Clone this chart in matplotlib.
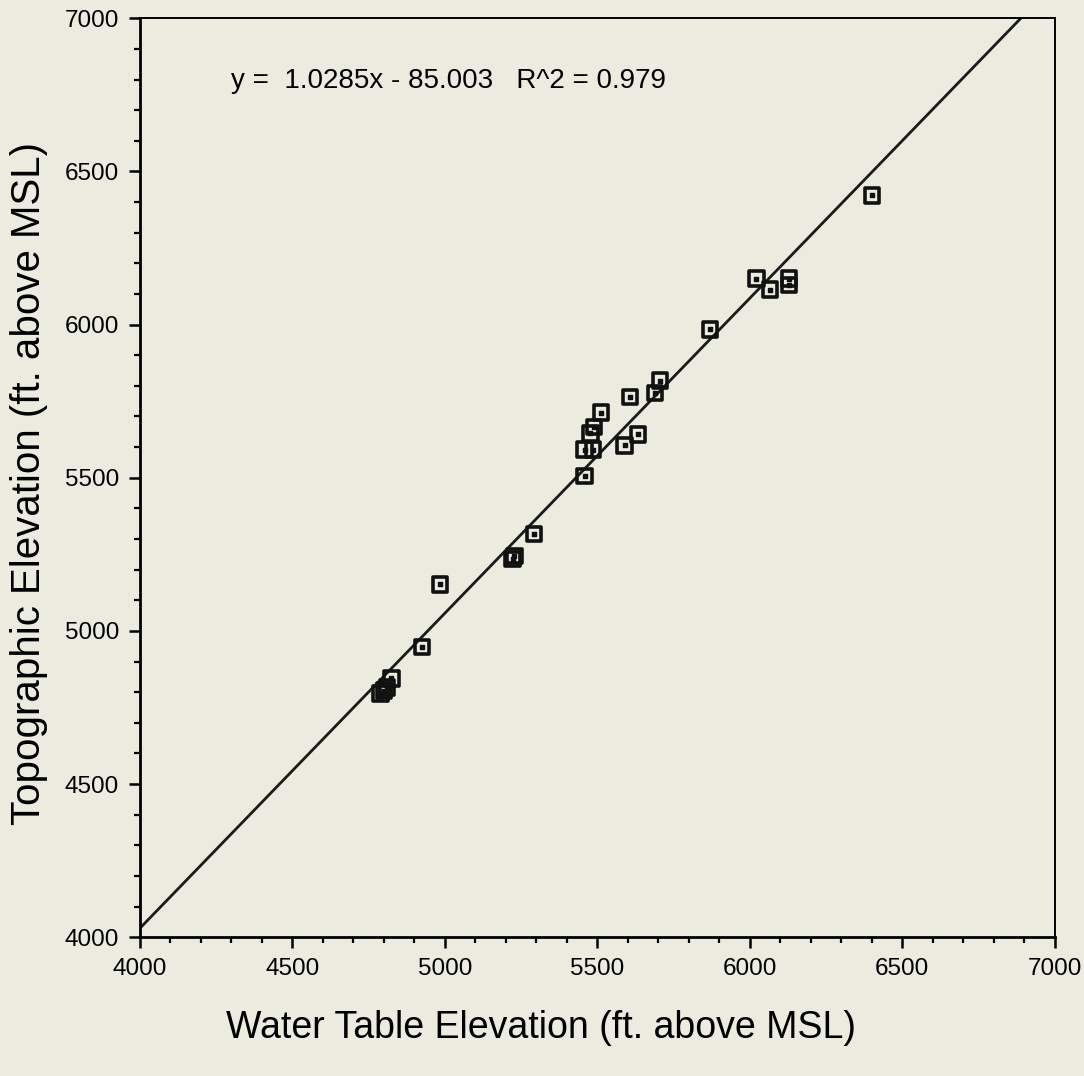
import numpy as np
import matplotlib.pyplot as plt
from matplotlib.ticker import MultipleLocator

# Water table vs topographic elevation (ft above MSL)
water_table = np.array([
    4790, 4800, 4810, 4825, 4925, 4984, 5222, 5228, 5293,
    5459, 5459, 5486, 5477, 5489, 5512, 5590, 5634, 5607,
    5689, 5705, 5869, 6022, 6066, 6128, 6128, 6401
], dtype=float)

topo = np.array([
    4795, 4805, 4815, 4845, 4947, 5152, 5235, 5245, 5316,
    5505, 5592, 5592, 5645, 5665, 5713, 5606, 5642, 5764,
    5776, 5817, 5984, 6150, 6114, 6150, 6129, 6422
], dtype=float)

# Reported regression
slope = 1.0285
intercept = -85.003
r2 = 0.979

bg = "#ecebe0"
plt.rcParams['font.family'] = ['Liberation Sans', 'DejaVu Sans']

fig = plt.figure(figsize=(10.84, 10.76), dpi=100, facecolor=bg)
ax = fig.add_axes([0.129, 0.129, 0.844, 0.854], facecolor=bg)

# fit line, clipped to the axes box
x_end = (7000 - intercept) / slope
x_fit = np.linspace(4000, x_end, 50)
ax.plot(x_fit, slope * x_fit + intercept, color="#1a1a1a", lw=2.0, zorder=2)

ax.scatter(water_table, topo, marker='s', s=110, facecolors='none',
           edgecolors='#111111', linewidths=2.6, zorder=3)
ax.scatter(water_table, topo, marker='s', s=5, color='#111111', zorder=4)

ax.text(4300, 6795, f"y =  {slope}x - {abs(intercept):.3f}   R^2 = {r2}",
        fontsize=20, va='center', ha='left')

ax.set_xlim(4000, 7000)
ax.set_ylim(4000, 7000)
ax.xaxis.set_major_locator(MultipleLocator(500))
ax.yaxis.set_major_locator(MultipleLocator(500))
ax.xaxis.set_minor_locator(MultipleLocator(100))
ax.yaxis.set_minor_locator(MultipleLocator(100))
ax.tick_params(which='major', direction='out', length=8, width=1.8,
               labelsize=17.5, pad=7)
ax.tick_params(which='minor', direction='out', length=4, width=1.6)

for side in ['left', 'bottom']:
    ax.spines[side].set_linewidth(2.0)
for side in ['top', 'right']:
    ax.spines[side].set_linewidth(1.4)

ax.set_xlabel("Water Table Elevation (ft. above MSL)", fontsize=27, va='center')
ax.set_ylabel("Topographic Elevation (ft. above MSL)", fontsize=29, va='center')
ax.xaxis.set_label_coords(0.439, -0.099)
ax.yaxis.set_label_coords(-0.121, 0.494)

fig.savefig("out.png", dpi=100, facecolor=bg)
